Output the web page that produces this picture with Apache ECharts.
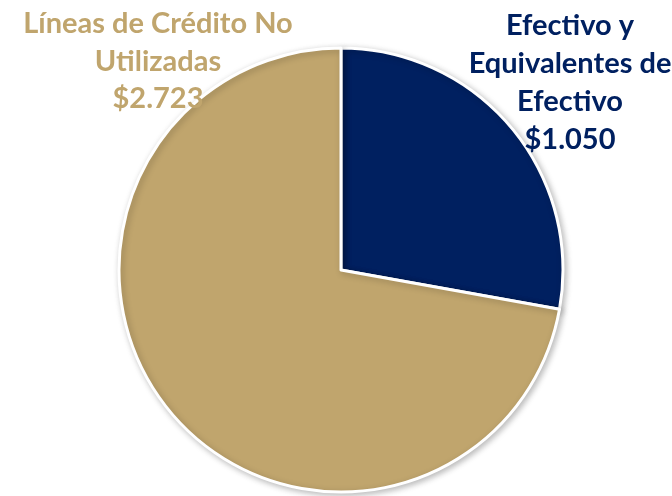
<!DOCTYPE html>
<html>
<head>
<meta charset="utf-8">
<script src="https://cdn.jsdelivr.net/npm/echarts@6/dist/echarts.min.js"></script>
<style>
    html, body { margin: 0; padding: 0; background: #fff; }
    #mainChart { width: 672px; height: 496px; }
</style>
</head>
<body>
<div id="mainChart"></div>
<script>
    const categories = ['Efectivo y\nEquivalentes de\nEfectivo', 'Líneas de Crédito No\nUtilizadas'];
    const values = [1050, 2723];
    const valueLabels = ['$1.050', '$2.723'];
    const colors = ['#002060', '#C0A56D'];

    const fontFamily = 'Lato, "Open Sans", sans-serif';

    let myChart = echarts.init(document.getElementById('mainChart'));

    const option = {
        backgroundColor: '#ffffff',
        animation: false,
        title: [
            {
                text: categories[1] + '\n' + valueLabels[1],
                left: 153,
                top: 0,
                textAlign: 'center',
                textStyle: {
                    color: colors[1],
                    fontFamily: fontFamily,
                    fontWeight: 'bold',
                    fontSize: 29,
                    lineHeight: 37.5
                }
            },
            {
                text: categories[0] + '\n' + valueLabels[0],
                left: 565,
                top: 2,
                textAlign: 'center',
                textStyle: {
                    color: colors[0],
                    fontFamily: fontFamily,
                    fontWeight: 'bold',
                    fontSize: 29,
                    lineHeight: 38
                }
            }
        ],
        series: [
            {
                type: 'pie',
                center: [341, 270],
                radius: 222,
                startAngle: 90,
                clockwise: true,
                label: { show: false },
                labelLine: { show: false },
                itemStyle: {
                    borderColor: '#ffffff',
                    borderWidth: 3,
                    shadowColor: 'rgba(0,0,0,0.25)',
                    shadowBlur: 6,
                    shadowOffsetX: 2,
                    shadowOffsetY: 2
                },
                data: [
                    { value: values[0], name: categories[0], itemStyle: { color: colors[0] } },
                    { value: values[1], name: categories[1], itemStyle: { color: colors[1] } }
                ]
            }
        ]
    };
    myChart.setOption(option);
</script>
</body>
</html>
